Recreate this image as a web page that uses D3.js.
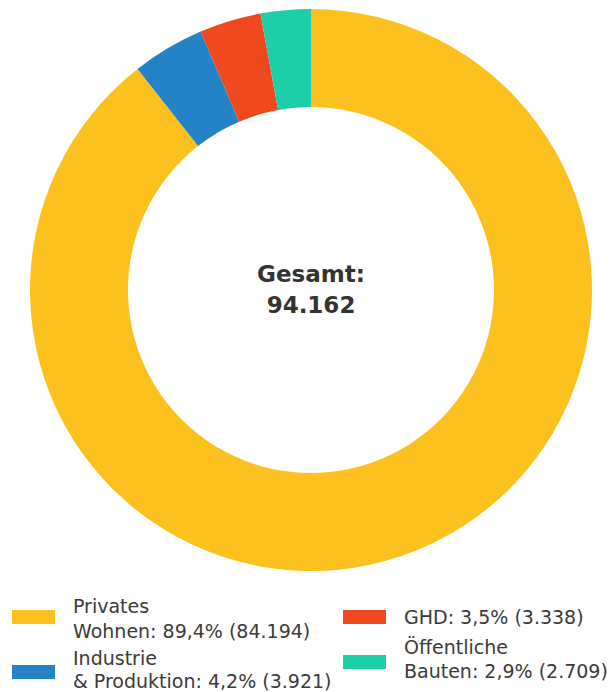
<!DOCTYPE html>
<html>
<head>
<meta charset="utf-8">
<script src="https://cdn.jsdelivr.net/npm/d3@7"></script>
<style>
  body { margin: 0; background: #fff; }
  svg { display: block; font-family: "DejaVu Sans", sans-serif; }
</style>
</head>
<body>
<svg id="chart"></svg>
<script>
const categories = ["Privates Wohnen", "Industrie & Produktion", "GHD", "Öffentliche Bauten"];
const values = [84194, 3921, 3338, 2709];
const colors = ["#FDC11F", "#2483C5", "#F0481E", "#1DCFA8"];
const legendLines = [
    ["Privates", "Wohnen: 89,4% (84.194)"],
    ["Industrie", "& Produktion: 4,2% (3.921)"],
    ["GHD: 3,5% (3.338)"],
    ["Öffentliche", "Bauten: 2,9% (2.709)"]
];
const totalLabel = ["Gesamt:", "94.162"];

const width = 613;
const height = 692;

const svg = d3.select("#chart")
    .attr("width", width)
    .attr("height", height);

const cx = 311, cy = 290;
const outerR = 281, innerR = 183;

const pie = d3.pie().sort(null).value(d => d);
const arc = d3.arc().innerRadius(innerR).outerRadius(outerR);

const g = svg.append("g").attr("transform", `translate(${cx},${cy})`);

g.selectAll("path")
    .data(pie(values))
    .enter()
    .append("path")
    .attr("d", arc)
    .attr("fill", (d, i) => colors[i]);

g.selectAll(".total")
    .data(totalLabel)
    .enter()
    .append("text")
    .attr("class", "total")
    .attr("text-anchor", "middle")
    .attr("y", (d, i) => -8 + i * 31)
    .style("font-size", "23px")
    .style("font-weight", "700")
    .style("fill", "#333")
    .text(d => d);

// legend: two columns, two rows
const legendPos = [
    {x: 12, y: 610, tx: 73, base: [613, 638]},
    {x: 12, y: 665, tx: 73, base: [665, 688]},
    {x: 343, y: 610, tx: 404, base: [624]},
    {x: 343, y: 655, tx: 404, base: [654, 678]}
];

const legend = svg.selectAll(".legend")
    .data(categories)
    .enter()
    .append("g")
    .attr("class", "legend");

legend.append("rect")
    .attr("x", (d, i) => legendPos[i].x)
    .attr("y", (d, i) => legendPos[i].y)
    .attr("width", 43)
    .attr("height", 14)
    .attr("fill", (d, i) => colors[i]);

legend.each(function(d, i) {
    const el = d3.select(this);
    legendLines[i].forEach((line, j) => {
        el.append("text")
            .attr("x", legendPos[i].tx)
            .attr("y", legendPos[i].base[j])
            .style("font-size", "19px")
            .style("fill", "#3a3a3a")
            .text(line);
    });
});
</script>
</body>
</html>
